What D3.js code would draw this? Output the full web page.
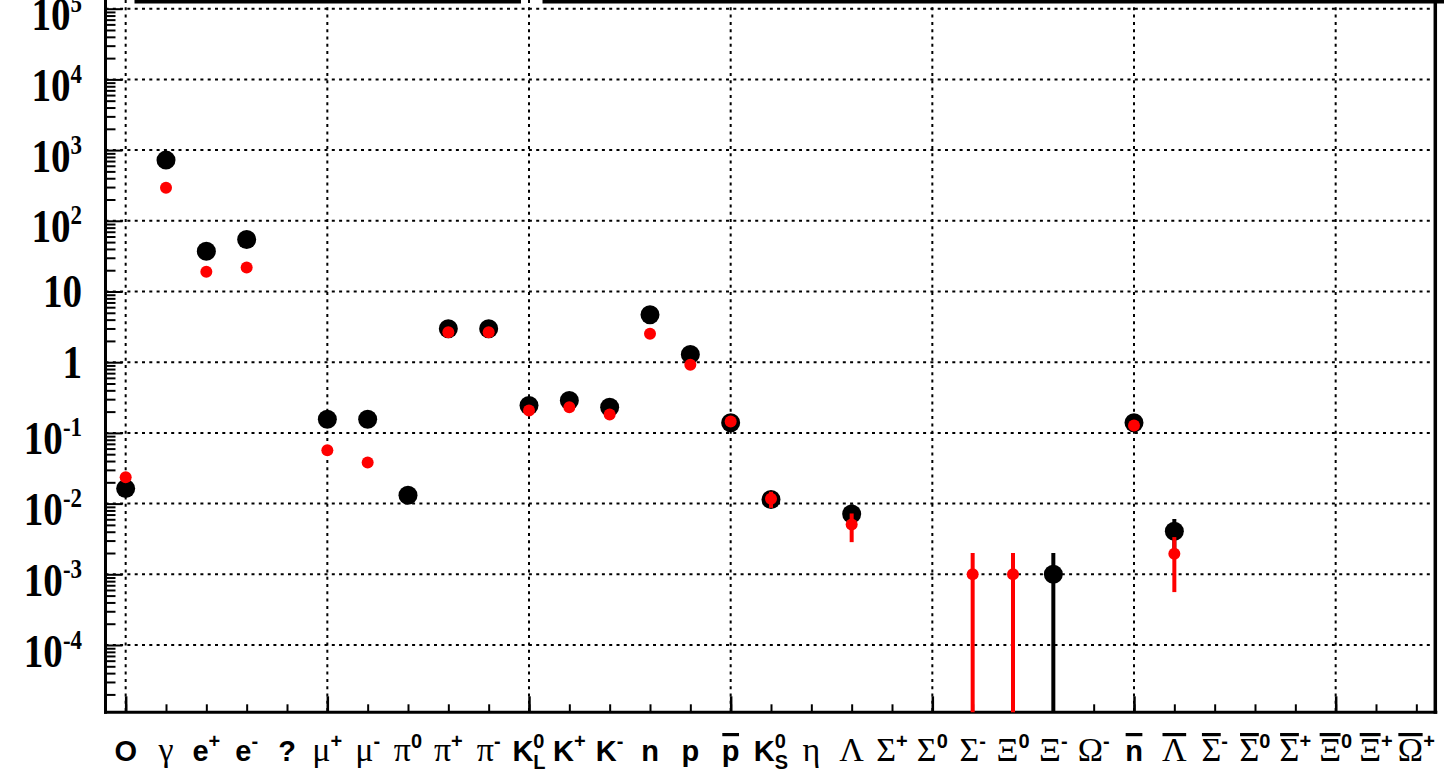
<!DOCTYPE html>
<html>
<head>
<meta charset="utf-8">
<script src="https://cdn.jsdelivr.net/npm/d3@7"></script>
<style>
  html, body { margin: 0; padding: 0; background: #fff; }
  svg { display: block; }
</style>
</head>
<body>
<svg id="chart" width="1444" height="775"></svg>
<script>
// bin labels, written the ROOT/TLatex way
const particles = [
  "O", "#gamma", "e^{+}", "e^{-}", "?", "#mu^{+}", "#mu^{-}", "#pi^{0}", "#pi^{+}", "#pi^{-}",
  "K^{0}_{L}", "K^{+}", "K^{-}", "n", "p", "#bar{p}", "K^{0}_{S}", "#eta", "#Lambda", "#Sigma^{+}",
  "#Sigma^{0}", "#Sigma^{-}", "#Xi^{0}", "#Xi^{-}", "#Omega^{-}", "#bar{n}", "#bar{#Lambda}",
  "#bar{#Sigma}^{-}", "#bar{#Sigma}^{0}", "#bar{#Sigma}^{+}", "#bar{#Xi}^{0}", "#bar{#Xi}^{+}", "#bar{#Omega}^{+}"
];

// black series (big markers)
const blackValues = [
  0.0163, 722, 37.2, 54.3, null, 0.156, 0.156, 0.0131, 2.97, 2.97,
  0.244, 0.287, 0.231, 4.69, 1.29, 0.139, 0.0114, null, 0.00714, null,
  null, null, null, 0.001, null, 0.139, 0.00406, null, null, null, null, null, null
];
const blackErrors = [
  0, 0, 0, 0, 0, 0, 0, 0, 0, 0,
  0, 0, 0, 0, 0, 0, 0, 0, 0.0026, 0,
  0, 0, 0, 0.001, 0, 0, 0.002, 0, 0, 0, 0, 0, 0
];

// red series (small markers)
const redValues = [
  0.0236, 293, 19.0, 21.8, null, 0.0568, 0.038, null, 2.66, 2.66,
  0.207, 0.231, 0.182, 2.52, 0.918, 0.145, 0.0117, null, 0.00505, null,
  null, 0.001, 0.001, null, null, 0.127, 0.00196, null, null, null, null, null, null
];
const redErrors = [
  0, 0, 0, 0, 0, 0, 0, 0, 0, 0,
  0, 0, 0, 0, 0, 0, 0.003, 0, 0.0022, 0,
  0, 0.001, 0.001, 0, 0, 0, 0.0014, 0, 0, 0, 0, 0, 0
];

const labelledDecades = d3.range(-4, 6);   // 10^-4 ... 10^5
const majorBins = d3.range(0, 33, 5);

const svg = d3.select("#chart");
const PLOT = { left: 105.5, right: 1435.3, top: 0, bottom: 712.3 };

const x = d3.scaleLinear().domain([-0.5, 32.5]).range([105.5, 1436.5]);
// log scale pinned on the 1e-4 and 1e5 grid lines, then stretched to the frame
const yPin = d3.scaleLog().domain([1e-4, 1e5]).range([645, 8.7]);
const y = d3.scaleLog()
  .domain([yPin.invert(PLOT.bottom), yPin.invert(PLOT.top)])
  .range([PLOT.bottom, PLOT.top]);

// dotted grid
const grid = svg.append("g")
  .attr("stroke", "#000")
  .attr("stroke-width", 2)
  .attr("stroke-dasharray", "3 4.3");

grid.selectAll("line.gh").data(labelledDecades).join("line")
  .attr("class", "gh")
  .attr("x1", PLOT.left).attr("x2", PLOT.right)
  .attr("y1", d => y(10 ** d)).attr("y2", d => y(10 ** d));

grid.selectAll("line.gv").data(majorBins).join("line")
  .attr("class", "gv")
  .attr("x1", d => x(d)).attr("x2", d => x(d))
  .attr("y1", PLOT.top).attr("y2", PLOT.bottom);

// y ticks (inside, on the left axis only)
const minorY = [];
d3.range(-5, 6).forEach(d => d3.range(2, 10).forEach(m => {
  const v = m * 10 ** d;
  if (y(v) > PLOT.top && y(v) < PLOT.bottom) minorY.push(v);
}));

svg.append("g")
  .attr("transform", `translate(${PLOT.left},0)`)
  .call(d3.axisLeft(y).tickValues(minorY).tickSize(-10).tickFormat(""))
  .call(g => g.select(".domain").remove())
  .selectAll("line").attr("stroke-width", 2);

const yMajor = svg.append("g")
  .attr("transform", `translate(${PLOT.left},0)`)
  .call(d3.axisLeft(y).tickValues(labelledDecades.map(d => 10 ** d)).tickSize(-17).tickFormat(""))
  .call(g => g.select(".domain").remove());
yMajor.selectAll("line").attr("stroke-width", 2);

// y labels: 10^n in bold Times
yMajor.selectAll(".tick").each(function (v) {
  const d = Math.round(Math.log10(v));
  const t = d3.select(this).append("g")
    .attr("transform", `translate(${82 - PLOT.left},${d === 0 || d === 1 ? 15 : 21}) scale(0.85,1)`)
    .append("text")
    .attr("text-anchor", "end")
    .attr("fill", "#000")
    .attr("font-family", "'Liberation Serif', 'Times New Roman', serif")
    .attr("font-weight", "bold");
  if (d === 0 || d === 1) {
    t.append("tspan").attr("font-size", 46).text(d === 0 ? "1" : "10");
  } else {
    t.append("tspan").attr("font-size", 46).text("10");
    t.append("tspan").attr("font-size", 27).attr("dy", -18).text(String(d));
  }
});

// x ticks (inside, pointing up)
const xMinor = svg.append("g")
  .attr("transform", `translate(0,${PLOT.bottom})`)
  .call(d3.axisBottom(x).tickValues(d3.range(0, 33)).tickSize(-8).tickFormat(""))
  .call(g => g.select(".domain").remove());
xMinor.selectAll("line").attr("stroke-width", 2);

const xMajor = svg.append("g")
  .attr("transform", `translate(0,${PLOT.bottom})`)
  .call(d3.axisBottom(x).tickValues(majorBins).tickSize(-16).tickFormat(""))
  .call(g => g.select(".domain").remove());
xMajor.selectAll("line").attr("stroke-width", 2.5);

// frame
const frame = svg.append("g").attr("stroke", "#000");
frame.append("line").attr("x1", PLOT.left).attr("x2", PLOT.left).attr("y1", 0).attr("y2", PLOT.bottom + 1.5).attr("stroke-width", 3);
frame.append("line").attr("x1", PLOT.left - 1.5).attr("x2", PLOT.right + 2).attr("y1", PLOT.bottom).attr("y2", PLOT.bottom).attr("stroke-width", 3);
frame.append("line").attr("x1", PLOT.right).attr("x2", PLOT.right).attr("y1", 0).attr("y2", PLOT.bottom + 1.5).attr("stroke-width", 3.5);
// bottom edge of the (cut off) box above the frame
svg.append("rect").attr("x", 134.5).attr("y", 0).attr("width", 521 - 134.5).attr("height", 3.5).attr("fill", "#000");
svg.append("rect").attr("x", 542.5).attr("y", 0).attr("width", 1444 - 542.5).attr("height", 3.5).attr("fill", "#000");

// ---- bin labels (tiny TLatex subset) ----
const GREEK = { gamma: "γ", mu: "μ", pi: "π", eta: "η", Lambda: "Λ", Sigma: "Σ", Xi: "Ξ", Omega: "Ω" };
const SANS = "'Liberation Sans', Arial, Helvetica, sans-serif";
const SERIF = "'Liberation Serif', 'Times New Roman', serif";

function parseLatex(s, bar = false) {
  const out = [];
  let i = 0;
  const group = start => {
    let depth = 1, j = start;
    while (depth > 0) { j++; if (s[j] === "{") depth++; if (s[j] === "}") depth--; }
    return [s.slice(start + 1, j), j + 1];
  };
  while (i < s.length) {
    if (s.startsWith("#bar{", i)) {
      const [inner, next] = group(i + 4);
      out.push(...parseLatex(inner, true));
      i = next;
    } else if (s[i] === "#") {
      const m = /^#([A-Za-z]+)/.exec(s.slice(i));
      out.push({ kind: "base", text: GREEK[m[1]], greek: true, bar });
      i += m[0].length;
    } else if (s[i] === "^" || s[i] === "_") {
      const [inner, next] = group(i + 1);
      out.push({ kind: s[i] === "^" ? "sup" : "sub", text: inner });
      i = next;
    } else {
      out.push({ kind: "base", text: s[i], greek: false, bar });
      i++;
    }
  }
  return out;
}

function drawLatex(parent, str, cx, baseline) {
  const g = parent.append("g");
  let cursor = 0, scriptStart = null, scriptWidth = 0;
  parseLatex(str).forEach(p => {
    if (p.kind === "base") {
      cursor += scriptWidth; scriptStart = null; scriptWidth = 0;
      const t = g.append("text").attr("x", cursor).attr("y", 0)
        .attr("font-family", p.greek ? SERIF : SANS)
        .attr("font-weight", p.greek ? "normal" : "bold")
        .attr("font-size", p.greek ? 34 : 29)
        .text(p.text);
      const w = t.node().getComputedTextLength();
      if (p.bar) {
        g.append("rect").attr("x", cursor + 0.5).attr("y", -28).attr("width", w - 1).attr("height", 3.2).attr("fill", "#000");
      }
      cursor += w;
    } else {
      if (scriptStart === null) scriptStart = cursor;
      const t = g.append("text").attr("x", scriptStart)
        .attr("y", p.kind === "sup" ? -13 : 8)
        .attr("font-family", SANS).attr("font-weight", "bold").attr("font-size", 20)
        .text(p.text);
      scriptWidth = Math.max(scriptWidth, t.node().getComputedTextLength());
    }
  });
  cursor += scriptWidth;
  g.attr("transform", `translate(${cx - cursor / 2},${baseline})`);
}

const labels = svg.append("g").attr("fill", "#000");
particles.forEach((s, i) => drawLatex(labels, s, x(i), 761));

// ---- data ----
function series(values, errors, color, r) {
  const pts = values.map((v, i) => ({ i, v, e: errors[i] })).filter(d => d.v !== null);
  const g = svg.append("g");
  g.selectAll("line").data(pts.filter(d => d.e > 0)).join("line")
    .attr("x1", d => x(d.i)).attr("x2", d => x(d.i))
    .attr("y1", d => y(d.v + d.e))
    .attr("y2", d => d.v - d.e > 0 ? Math.min(y(d.v - d.e), PLOT.bottom) : PLOT.bottom)
    .attr("stroke", color).attr("stroke-width", 4);
  g.selectAll("circle").data(pts).join("circle")
    .attr("cx", d => x(d.i)).attr("cy", d => y(d.v))
    .attr("r", r).attr("fill", color);
}

series(blackValues, blackErrors, "#000", 9.5);
series(redValues, redErrors, "#ff0000", 6);
</script>
</body>
</html>
